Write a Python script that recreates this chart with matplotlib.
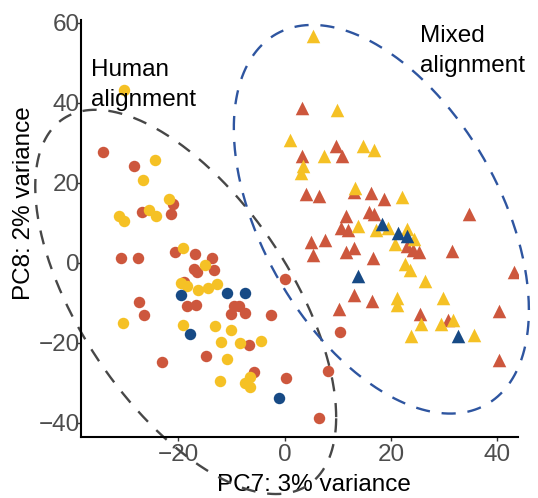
import numpy as np
import matplotlib
matplotlib.use("Agg")
import matplotlib.pyplot as plt

plt.rcParams['font.family'] = ['Liberation Sans', 'DejaVu Sans']

# ---- data: Human alignment (circles) ----
human_red = [(-34.1, 27.7), (-28.3, 24.3), (-21.0, 14.8), (-26.9, 12.75), (-21.3, 12.1),
             (-30.7, 1.1), (-27.6, 1.1), (-20.6, 2.6), (-16.9, 2.2), (-13.6, 1.1),
             (-17.1, -1.6), (-16.4, -2.4), (-13.2, -1.8), (-18.9, -4.9), (-18.3, -10.7),
             (-16.7, -10.4), (-9.6, -10.7), (-8.6, -10.7), (-10.1, -12.8), (-7.4, -12.6),
             (-2.6, -13.0), (-27.4, -9.8), (-26.5, -13.1), (-6.7, -20.5), (-23.1, -24.8),
             (-14.8, -23.2), (-5.8, -27.3), (0.25, -28.7), (0.06, -4.1), (10.4, -17.2),
             (8.1, -26.9), (6.4, -38.8)]
human_yellow = [(-30.2, 43.1), (-24.3, 25.8), (-26.7, 20.8), (-21.8, 15.9), (-25.5, 13.2),
                (-24.1, 11.8), (-31.1, 11.6), (-30.2, 10.5), (-19.2, 3.8), (-15.0, -0.5),
                (-19.5, -5.1), (-18.3, -5.9), (-16.3, -6.7), (-14.4, -6.25), (-12.75, -5.3),
                (-30.4, -15.1), (-19.1, -15.6), (-13.0, -15.8), (-10.1, -16.7), (-12.0, -19.7),
                (-8.3, -20.0), (-4.5, -19.6), (-10.9, -23.9), (-6.6, -28.5), (-7.4, -30.1),
                (-6.5, -31.1), (-12.2, -29.4)]
human_blue = [(-19.4, -8.0), (-10.9, -7.6), (-7.4, -7.6), (-17.7, -17.8), (-1.0, -33.8)]

# ---- data: Mixed alignment (triangles) ----
mixed_red = [(3.25, 38.7), (9.6, 29.25), (3.25, 26.75), (10.8, 26.75), (13.1, 17.8),
             (4.1, 17.25), (6.4, 16.8), (16.25, 17.4), (18.7, 16.0), (34.75, 12.2),
             (11.5, 11.6), (15.8, 12.75), (16.8, 12.2), (10.7, 8.7), (11.9, 8.25),
             (23.0, 4.1), (24.1, 3.1), (25.25, 2.6), (5.0, 5.3), (7.6, 5.6),
             (5.4, 2.0), (11.6, 2.7), (13.1, 3.75), (16.7, 1.1), (31.5, 3.0),
             (43.1, -2.2), (13.0, -8.1), (16.5, -9.4), (10.2, -11.6), (25.4, -12.8),
             (30.75, -14.25), (40.3, -12.0), (40.3, -24.2)]
mixed_yellow = [(5.3, 56.75), (9.9, 38.2), (0.94, 30.6), (14.75, 29.25), (16.75, 28.25),
                (7.4, 26.6), (3.4, 24.25), (3.1, 22.4), (13.2, 18.8), (22.1, 16.4),
                (13.9, 9.25), (19.5, 8.8), (17.25, 8.1), (23.0, 8.4), (24.4, 5.9),
                (20.7, 4.7), (22.7, -0.25), (23.6, -1.75), (26.5, -4.5), (21.2, -8.8),
                (21.2, -10.5), (29.75, -8.7), (25.7, -15.25), (29.4, -15.25), (31.6, -14.25),
                (35.7, -18.0), (23.8, -18.25)]
mixed_blue = [(18.25, 9.7), (21.3, 7.4), (23.1, 6.6), (13.9, -3.2), (32.6, -18.2)]

# ---- ellipses: centre, x-spread, y-spread, correlation ----
human_ellipse = [(-18.6, -9.75), 28.3, 48.0, -0.6]
mixed_ellipse = [(18.2, 10.9), 27.75, 48.55, -0.467]

x_ticks = [-20, 0, 20, 40]
y_ticks = [-40, -20, 0, 20, 40, 60]
x_label = "PC7: 3% variance"
y_label = "PC8: 2% variance"
human_text = ["Human", "alignment"]
mixed_text = ["Mixed", "alignment"]

RED = "#CD573D"
YEL = "#F5C125"
BLU = "#174A85"
FS = 17.5

fig = plt.figure(figsize=(5.38, 4.98), dpi=100)
ax = fig.add_axes([0.1505, 0.1225, 0.8123, 0.8375])

def pts(a):
    a = np.asarray(a)
    return a[:, 0], a[:, 1]

for data, col in [(human_red, RED), (human_yellow, YEL), (human_blue, BLU)]:
    x, y = pts(data)
    ax.scatter(x, y, s=68, marker='o', color=col, linewidths=0, zorder=3)
for data, col in [(mixed_red, RED), (mixed_yellow, YEL), (mixed_blue, BLU)]:
    x, y = pts(data)
    ax.scatter(x, y, s=95, marker='^', color=col, linewidths=0, zorder=3)

def draw_ellipse(params, color):
    (cx, cy), sx, sy, rho = params
    S = np.array([[sx * sx, rho * sx * sy], [rho * sx * sy, sy * sy]])
    L = np.linalg.cholesky(S)
    t = np.linspace(0, 2 * np.pi, 400)
    u = np.vstack([np.cos(t), np.sin(t)])
    e = L @ u
    ax.plot(cx + e[0], cy + e[1], color=color, lw=1.7, linestyle=(0, (6, 5)),
            clip_on=False, zorder=2)

draw_ellipse(human_ellipse, "#474747")
draw_ellipse(mixed_ellipse, "#2E55A0")

for i, line in enumerate(human_text):
    ax.text(-36.5, 46.75 - 7.5 * i, line, fontsize=FS, ha='left', va='baseline')
for i, line in enumerate(mixed_text):
    ax.text(25.5, 55.3 - 7.5 * i, line, fontsize=FS, ha='left', va='baseline')

ax.set_xlim(-38.3, 43.9)
ax.set_ylim(-43.5, 60.7)
ax.set_xticks(x_ticks)
ax.set_yticks(y_ticks)
ax.set_xticklabels([f"\u2212{abs(v)}" if v < 0 else str(v) for v in x_ticks])
ax.set_yticklabels([f"\u2212{abs(v)}" if v < 0 else str(v) for v in y_ticks])
ax.tick_params(axis='both', labelsize=FS, labelcolor="#4D4D4D", color="#333333",
               length=3, width=1)
ax.tick_params(axis='y', pad=-2)
ax.tick_params(axis='x', pad=2)
ax.set_xlabel(x_label, fontsize=FS)
ax.set_ylabel(y_label, fontsize=FS)
ax.xaxis.set_label_coords(0.534, -0.088)
ax.yaxis.set_label_coords(-0.106, 0.56)
for s in ['top', 'right']:
    ax.spines[s].set_visible(False)
for s in ['left', 'bottom']:
    ax.spines[s].set_linewidth(1.5)
    ax.spines[s].set_color('black')

fig.savefig("out.png", dpi=100)
